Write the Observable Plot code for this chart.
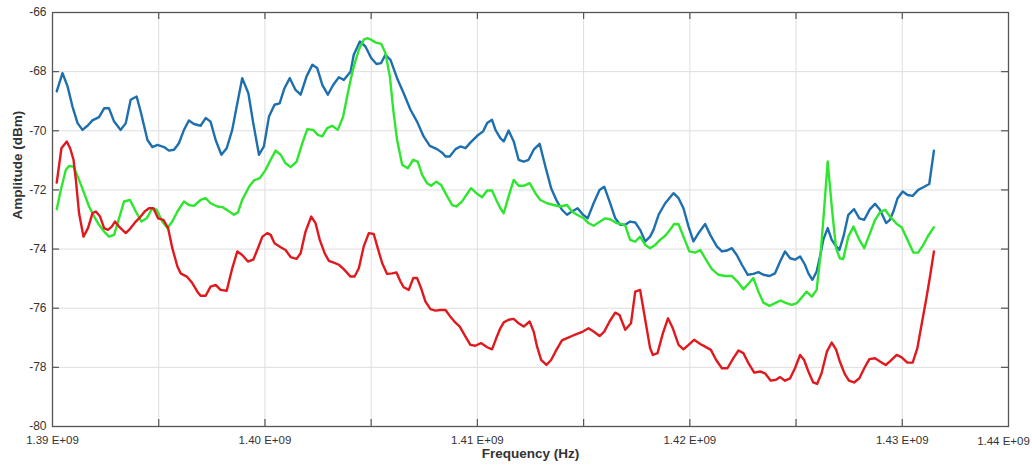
<!DOCTYPE html>
<html><head><meta charset="utf-8">
<script src="https://cdn.jsdelivr.net/npm/d3@7"></script>
<script src="https://cdn.jsdelivr.net/npm/@observablehq/plot@0.6"></script>
<style>html,body{margin:0;padding:0;background:#fff;}</style>
</head><body><div id="chart"></div>
<script>
// [frequency in MHz, amplitude in dBm]
const blueTrace = [
[1390.20,-68.67],[1390.47,-68.05],[1390.71,-68.50],[1390.94,-69.18],[1391.18,-69.74],[1391.41,-69.97],[1391.65,-69.83],[1391.88,-69.65],[1392.19,-69.54],[1392.43,-69.24],[1392.66,-69.24],[1392.90,-69.69],[1393.21,-69.97],[1393.45,-69.74],[1393.68,-68.95],[1393.96,-68.84],[1394.15,-69.35],[1394.47,-70.31],[1394.70,-70.55],[1394.94,-70.48],[1395.25,-70.55],[1395.48,-70.67],[1395.72,-70.64],[1395.95,-70.42],[1396.19,-69.97],[1396.42,-69.65],[1396.66,-69.77],[1396.97,-69.83],[1397.21,-69.57],[1397.44,-69.69],[1397.68,-70.31],[1397.95,-70.81],[1398.20,-70.59],[1398.46,-69.97],[1398.70,-69.07],[1398.93,-68.22],[1399.22,-68.73],[1399.45,-69.74],[1399.72,-70.81],[1399.95,-70.53],[1400.19,-69.52],[1400.45,-69.12],[1400.69,-69.07],[1400.92,-68.56],[1401.17,-68.22],[1401.44,-68.62],[1401.68,-68.78],[1401.96,-68.16],[1402.23,-67.77],[1402.46,-67.88],[1402.70,-68.45],[1402.96,-68.78],[1403.21,-68.45],[1403.48,-68.19],[1403.71,-68.28],[1404.03,-68.00],[1404.18,-67.43],[1404.47,-66.98],[1404.73,-67.15],[1405.00,-67.54],[1405.25,-67.74],[1405.47,-67.71],[1405.67,-67.43],[1405.91,-67.60],[1406.22,-68.22],[1406.53,-68.73],[1406.85,-69.29],[1407.16,-69.69],[1407.47,-70.19],[1407.76,-70.51],[1408.10,-70.62],[1408.34,-70.74],[1408.50,-70.87],[1408.70,-70.87],[1408.97,-70.62],[1409.20,-70.53],[1409.44,-70.59],[1409.67,-70.40],[1409.99,-70.17],[1410.27,-70.02],[1410.46,-69.74],[1410.69,-69.63],[1410.85,-69.97],[1411.08,-70.25],[1411.24,-70.36],[1411.47,-69.99],[1411.71,-70.36],[1411.94,-70.98],[1412.18,-71.04],[1412.41,-70.98],[1412.65,-70.64],[1412.93,-70.44],[1413.20,-71.21],[1413.47,-71.94],[1413.75,-72.39],[1413.98,-72.67],[1414.22,-72.84],[1414.45,-72.73],[1414.72,-72.62],[1414.97,-72.84],[1415.19,-72.96],[1415.47,-72.45],[1415.75,-72.00],[1415.97,-71.89],[1416.22,-72.39],[1416.49,-72.96],[1416.72,-73.18],[1416.96,-73.18],[1417.19,-73.07],[1417.43,-73.10],[1417.66,-73.35],[1417.90,-73.74],[1418.13,-73.58],[1418.29,-73.35],[1418.53,-72.84],[1418.84,-72.45],[1419.23,-72.11],[1419.47,-72.28],[1419.70,-72.62],[1419.94,-73.24],[1420.17,-73.74],[1420.41,-73.46],[1420.72,-73.15],[1420.96,-73.52],[1421.27,-73.91],[1421.51,-74.08],[1421.74,-74.05],[1421.98,-73.97],[1422.21,-74.20],[1422.45,-74.53],[1422.73,-74.87],[1422.99,-74.84],[1423.23,-74.78],[1423.46,-74.87],[1423.75,-74.91],[1424.01,-74.82],[1424.25,-74.42],[1424.48,-74.08],[1424.72,-74.31],[1424.95,-74.36],[1425.19,-74.25],[1425.42,-74.53],[1425.58,-74.82],[1425.77,-75.04],[1425.97,-74.76],[1426.16,-74.14],[1426.28,-73.69],[1426.49,-73.29],[1426.68,-73.69],[1426.84,-73.86],[1427.04,-74.03],[1427.23,-73.58],[1427.46,-72.84],[1427.73,-72.65],[1427.98,-72.96],[1428.21,-73.01],[1428.48,-72.65],[1428.72,-72.47],[1428.95,-72.67],[1429.24,-73.12],[1429.42,-73.01],[1429.58,-72.73],[1429.78,-72.28],[1430.02,-72.05],[1430.25,-72.17],[1430.49,-72.20],[1430.75,-72.00],[1430.99,-71.91],[1431.27,-71.80],[1431.49,-70.67]
];
const greenTrace = [
[1390.20,-72.65],[1390.39,-72.00],[1390.63,-71.32],[1390.78,-71.19],[1390.99,-71.21],[1391.25,-71.66],[1391.49,-72.11],[1391.72,-72.56],[1391.96,-72.90],[1392.19,-73.18],[1392.43,-73.41],[1392.66,-73.58],[1392.90,-73.52],[1393.13,-72.96],[1393.37,-72.39],[1393.65,-72.34],[1393.92,-72.73],[1394.19,-73.07],[1394.43,-72.96],[1394.70,-72.62],[1394.90,-72.67],[1395.17,-73.07],[1395.41,-73.29],[1395.64,-73.07],[1395.88,-72.73],[1396.19,-72.39],[1396.42,-72.51],[1396.66,-72.54],[1396.97,-72.34],[1397.21,-72.28],[1397.44,-72.45],[1397.76,-72.56],[1397.99,-72.58],[1398.26,-72.70],[1398.54,-72.84],[1398.73,-72.76],[1398.93,-72.34],[1399.25,-71.89],[1399.48,-71.68],[1399.76,-71.60],[1400.03,-71.32],[1400.27,-70.98],[1400.50,-70.67],[1400.74,-70.81],[1400.97,-71.10],[1401.21,-71.23],[1401.49,-71.04],[1401.76,-70.42],[1401.99,-69.95],[1402.27,-69.97],[1402.49,-70.14],[1402.70,-70.19],[1402.93,-69.91],[1403.17,-69.83],[1403.43,-69.97],[1403.68,-69.52],[1403.87,-68.84],[1404.03,-68.28],[1404.18,-67.83],[1404.42,-67.26],[1404.65,-66.92],[1404.81,-66.87],[1405.00,-66.92],[1405.20,-67.01],[1405.47,-67.06],[1405.67,-67.37],[1405.88,-68.16],[1406.04,-69.29],[1406.22,-70.31],[1406.46,-71.15],[1406.72,-71.27],[1406.98,-70.98],[1407.19,-71.04],[1407.40,-71.49],[1407.63,-71.77],[1407.82,-71.86],[1408.07,-71.72],[1408.29,-71.83],[1408.58,-72.22],[1408.81,-72.51],[1409.01,-72.56],[1409.28,-72.39],[1409.48,-72.17],[1409.70,-71.94],[1409.95,-72.11],[1410.22,-72.25],[1410.46,-72.02],[1410.69,-72.02],[1410.89,-72.34],[1411.08,-72.62],[1411.24,-72.79],[1411.47,-72.22],[1411.71,-71.66],[1411.94,-71.86],[1412.18,-71.86],[1412.46,-71.77],[1412.73,-72.11],[1412.96,-72.34],[1413.28,-72.45],[1413.59,-72.51],[1413.90,-72.56],[1414.22,-72.51],[1414.45,-72.73],[1414.69,-72.84],[1415.00,-72.96],[1415.23,-73.12],[1415.47,-73.21],[1415.78,-73.07],[1416.02,-72.96],[1416.25,-72.99],[1416.54,-73.12],[1416.76,-73.15],[1416.96,-73.21],[1417.19,-73.69],[1417.43,-73.75],[1417.66,-73.58],[1417.90,-73.86],[1418.13,-73.97],[1418.37,-73.86],[1418.60,-73.69],[1418.84,-73.55],[1419.07,-73.35],[1419.26,-73.15],[1419.47,-73.16],[1419.70,-73.58],[1419.98,-74.08],[1420.25,-74.12],[1420.49,-74.03],[1420.77,-74.37],[1421.04,-74.68],[1421.35,-74.87],[1421.66,-74.91],[1421.98,-74.91],[1422.24,-75.10],[1422.52,-75.36],[1422.79,-75.15],[1422.99,-74.98],[1423.23,-75.44],[1423.46,-75.81],[1423.75,-75.92],[1424.01,-75.83],[1424.28,-75.74],[1424.48,-75.81],[1424.80,-75.89],[1425.03,-75.83],[1425.19,-75.70],[1425.50,-75.44],[1425.74,-75.61],[1425.97,-75.38],[1426.16,-74.14],[1426.32,-72.67],[1426.49,-71.04],[1426.68,-72.56],[1426.88,-73.97],[1427.06,-74.31],[1427.22,-74.34],[1427.46,-73.58],[1427.70,-73.24],[1427.98,-73.69],[1428.21,-73.97],[1428.45,-73.52],[1428.72,-73.01],[1428.95,-72.76],[1429.19,-72.67],[1429.42,-72.90],[1429.74,-73.15],[1429.97,-73.26],[1430.21,-73.63],[1430.52,-74.12],[1430.75,-74.12],[1430.99,-73.86],[1431.22,-73.55],[1431.49,-73.26]
];
const redTrace = [
[1390.20,-71.75],[1390.42,-70.59],[1390.67,-70.36],[1390.83,-70.59],[1390.99,-70.98],[1391.10,-71.66],[1391.25,-72.79],[1391.46,-73.58],[1391.67,-73.29],[1391.88,-72.79],[1392.04,-72.73],[1392.24,-72.90],[1392.43,-73.29],[1392.61,-73.35],[1392.79,-73.24],[1392.94,-73.07],[1393.13,-73.24],[1393.45,-73.46],[1393.68,-73.29],[1393.92,-73.07],[1394.15,-72.90],[1394.34,-72.73],[1394.54,-72.62],[1394.75,-72.62],[1394.97,-72.96],[1395.22,-73.01],[1395.44,-73.29],[1395.64,-73.97],[1395.88,-74.59],[1396.03,-74.82],[1396.32,-74.93],[1396.58,-75.15],[1396.82,-75.44],[1396.97,-75.58],[1397.21,-75.58],[1397.44,-75.27],[1397.68,-75.21],[1397.91,-75.38],[1398.20,-75.41],[1398.46,-74.65],[1398.70,-74.08],[1398.93,-74.20],[1399.20,-74.42],[1399.45,-74.36],[1399.67,-73.97],[1399.88,-73.58],[1400.11,-73.46],[1400.27,-73.52],[1400.45,-73.80],[1400.74,-73.94],[1400.97,-74.03],[1401.21,-74.27],[1401.49,-74.33],[1401.68,-74.14],[1401.91,-73.41],[1402.18,-72.90],[1402.38,-73.12],[1402.58,-73.69],[1402.81,-74.14],[1403.01,-74.40],[1403.24,-74.46],[1403.48,-74.53],[1403.71,-74.68],[1404.03,-74.93],[1404.22,-74.93],[1404.42,-74.65],[1404.65,-73.91],[1404.89,-73.46],[1405.12,-73.49],[1405.31,-73.97],[1405.52,-74.48],[1405.75,-74.84],[1405.99,-74.82],[1406.19,-74.79],[1406.38,-75.10],[1406.53,-75.29],[1406.77,-75.38],[1406.98,-74.98],[1407.16,-74.98],[1407.35,-75.32],[1407.55,-75.77],[1407.79,-76.03],[1408.02,-76.08],[1408.26,-76.06],[1408.50,-76.06],[1408.70,-76.26],[1408.92,-76.45],[1409.17,-76.62],[1409.44,-76.96],[1409.67,-77.24],[1409.90,-77.27],[1410.17,-77.18],[1410.46,-77.32],[1410.69,-77.39],[1410.89,-77.01],[1411.08,-76.68],[1411.24,-76.48],[1411.47,-76.39],[1411.71,-76.36],[1411.94,-76.51],[1412.18,-76.62],[1412.46,-76.45],[1412.65,-76.79],[1412.81,-77.30],[1413.00,-77.75],[1413.25,-77.92],[1413.47,-77.75],[1413.72,-77.41],[1413.98,-77.09],[1414.22,-77.01],[1414.45,-76.94],[1414.69,-76.87],[1414.97,-76.79],[1415.23,-76.68],[1415.47,-76.79],[1415.75,-76.94],[1415.97,-76.79],[1416.22,-76.45],[1416.49,-76.15],[1416.69,-76.23],[1416.96,-76.73],[1417.23,-76.51],[1417.43,-75.44],[1417.66,-75.38],[1417.90,-76.39],[1418.13,-77.35],[1418.26,-77.58],[1418.48,-77.52],[1418.73,-76.85],[1418.97,-76.34],[1419.20,-76.68],[1419.47,-77.24],[1419.70,-77.39],[1419.94,-77.24],[1420.20,-77.07],[1420.49,-77.21],[1420.72,-77.30],[1420.99,-77.41],[1421.24,-77.75],[1421.51,-78.03],[1421.77,-78.03],[1422.05,-77.69],[1422.29,-77.43],[1422.52,-77.52],[1422.76,-77.86],[1423.03,-78.18],[1423.31,-78.14],[1423.54,-78.20],[1423.81,-78.45],[1424.06,-78.42],[1424.25,-78.33],[1424.48,-78.45],[1424.72,-78.37],[1424.95,-78.03],[1425.19,-77.58],[1425.38,-77.75],[1425.58,-78.14],[1425.81,-78.51],[1425.99,-78.56],[1426.20,-78.20],[1426.45,-77.47],[1426.68,-77.16],[1426.88,-77.39],[1427.06,-77.80],[1427.29,-78.22],[1427.49,-78.45],[1427.73,-78.51],[1427.98,-78.37],[1428.21,-78.03],[1428.45,-77.72],[1428.72,-77.69],[1428.95,-77.80],[1429.22,-77.92],[1429.42,-77.80],[1429.74,-77.58],[1429.97,-77.66],[1430.24,-77.84],[1430.49,-77.84],[1430.71,-77.35],[1430.92,-76.51],[1431.12,-75.72],[1431.31,-74.91],[1431.49,-74.08]
];

const seriesColors = {blue: "#1d6fae", green: "#2ee62e", red: "#e0191e"};
const xDomainMHz = [1390, 1435];
const yDomain = [-80, -66];
const xTickMHz = [1390, 1400, 1410, 1420, 1430];
const xTickLabels = ["1.39 E+09", "1.40 E+09", "1.41 E+09", "1.42 E+09", "1.43 E+09"];
const xEndTickMHz = [1435];
const xEndTickLabels = ["1.44 E+09"];
const xGridMHz = [1395, 1400, 1405, 1410, 1415, 1420, 1425, 1430];
const yTicks = [-80, -78, -76, -74, -72, -70, -68, -66];
const yTickLabels = ["-80", "-78", "-76", "-74", "-72", "-70", "-68", "-66"];
const xTitle = "Frequency (Hz)";
const yTitle = "Amplitude (dBm)";

const toRows = (trace) => trace.map(([f, a]) => ({freq: f * 1e6, amp: a}));
const hz = (arr) => arr.map(f => f * 1e6);

const W = 1032, H = 470, mL = 52, mR = 24, mT = 12, mB = 44;
const pw = W - mL - mR, ph = H - mT - mB;
const tickLen = 7;
const xTicksHz = hz(xTickMHz);
const labelFont = 11.5;

const chart = Plot.plot({
  width: W, height: H,
  marginLeft: mL, marginRight: mR, marginTop: mT, marginBottom: mB,
  style: {fontFamily: "'Liberation Sans', Arial, sans-serif", background: "#fff", color: "#333"},
  x: {domain: hz(xDomainMHz)},
  y: {domain: yDomain},
  marks: [
    Plot.gridX(hz(xGridMHz), {stroke: "#dedede", strokeOpacity: 1}),
    Plot.gridY(yTicks, {stroke: "#dedede", strokeOpacity: 1}),
    Plot.tickY(yTicks.slice(1, -1), {y: d => d, insetRight: pw - tickLen, stroke: "#555", strokeWidth: 1.2}),
    Plot.tickY(yTicks.slice(1, -1), {y: d => d, insetLeft: pw - tickLen, stroke: "#555", strokeWidth: 1.2}),
    Plot.tickX(hz(xGridMHz), {x: d => d, insetBottom: ph - tickLen, stroke: "#555", strokeWidth: 1.2}),
    Plot.tickX(hz(xGridMHz), {x: d => d, insetTop: ph - tickLen, stroke: "#555", strokeWidth: 1.2}),
    Plot.line(toRows(blueTrace), {x: "freq", y: "amp", stroke: seriesColors.blue, strokeWidth: 2.4}),
    Plot.line(toRows(greenTrace), {x: "freq", y: "amp", stroke: seriesColors.green, strokeWidth: 2.4}),
    Plot.line(toRows(redTrace), {x: "freq", y: "amp", stroke: seriesColors.red, strokeWidth: 2.4}),
    Plot.frame({stroke: "#555", strokeWidth: 1.3}),
    Plot.axisX(xTicksHz, {tickSize: 0, tickPadding: 9, fontSize: labelFont, label: null,
      tickFormat: d => xTickLabels[xTicksHz.indexOf(d)]}),
    Plot.text(hz(xEndTickMHz), {x: d => d, text: (d, i) => xEndTickLabels[i], frameAnchor: "bottom",
      lineAnchor: "top", dy: 10, dx: -5, fontSize: labelFont, fill: "#333"}),
    Plot.axisY(yTicks, {tickSize: 0, tickPadding: 6, fontSize: 12, label: null,
      tickFormat: d => yTickLabels[yTicks.indexOf(d)]}),
    Plot.text([xTitle], {text: d => d, frameAnchor: "bottom", dy: 31, fontWeight: "bold", fontSize: 13.5, fill: "#333"}),
    Plot.text([yTitle], {text: d => d, frameAnchor: "left", dx: -35, rotate: -90, fontWeight: "bold", fontSize: 13.5, fill: "#333"})
  ]
});
document.getElementById("chart").appendChild(chart);
</script>
</body></html>
